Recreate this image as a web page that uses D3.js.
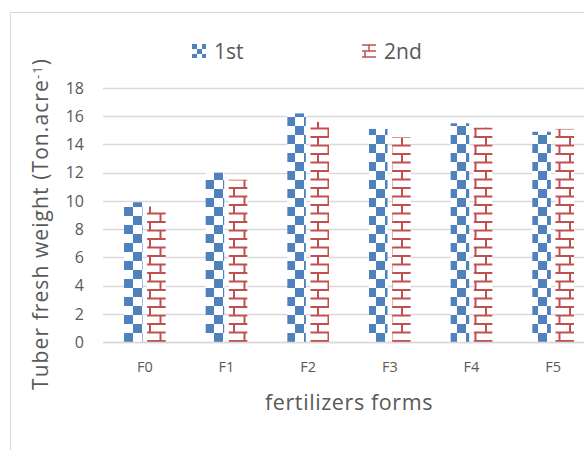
<!DOCTYPE html>
<html><head><meta charset="utf-8">
<script src="https://cdn.jsdelivr.net/npm/d3@7/dist/d3.min.js"></script>
<style>body{margin:0;background:#fff}svg{display:block}text{font-family:"Open Sans",sans-serif;fill:#595959}</style>
</head><body><div id="c"></div>
<script>
const categories = ["F0","F1","F2","F3","F4","F5"];
const seriesNames = ["1st","2nd"];
const first  = [9.9, 12.0, 16.2, 15.1, 15.5, 14.9];
const second = [9.6, 11.5, 15.6, 14.5, 15.2, 15.1];
const yTicks = [0,2,4,6,8,10,12,14,16,18];
const yTitle = "Tuber fresh weight (Ton.acre";
const xTitle = "fertilizers forms";

const W = 584, H = 450;
const svg = d3.select("#c").append("svg").attr("width", W).attr("height", H);
const defs = svg.append("defs");

function fitWidth(sel, target){
  const node = sel.node();
  const len = node.getComputedTextLength();
  const n = (node.textContent || "").length;
  if (n > 1) sel.style("letter-spacing", ((target - len) / n) + "px");
}

// checkerboard pattern
const pc = defs.append("pattern").attr("id","checker").attr("patternUnits","userSpaceOnUse")
  .attr("width",18).attr("height",18).attr("x",124).attr("y",0);
pc.append("rect").attr("width",18).attr("height",18).attr("fill","#fff");
pc.append("rect").attr("x",9).attr("y",0).attr("width",9).attr("height",9).attr("fill","#4F81BD");
pc.append("rect").attr("x",0).attr("y",9).attr("width",9).attr("height",9).attr("fill","#4F81BD");

// brick pattern
const pb = defs.append("pattern").attr("id","brick").attr("patternUnits","userSpaceOnUse")
  .attr("width",21).attr("height",17).attr("x",149).attr("y",0);
pb.append("rect").attr("width",21).attr("height",17).attr("fill","#fff");
pb.append("path").attr("d","M0,1H21M0,9.5H21M1,1V9.5M11.5,9.5V17")
  .attr("stroke","#C0504D").attr("stroke-width",2).attr("fill","none");

// frame
svg.append("path").attr("d","M10.5,450V12.5H584").attr("stroke","#d9d9d9").attr("fill","none");

const x0 = d3.scaleBand().domain(categories).range([104, 594]).paddingInner(0.49).paddingOuter(0.245);
const x1 = d3.scaleBand().domain(seriesNames).range([0, x0.bandwidth()]).paddingInner(0.2);
const y = d3.scaleLinear().domain([0,18]).range([342, 88]);

// gridlines
svg.append("g").selectAll("line").data(yTicks).join("line")
  .attr("x1",103).attr("x2",W).attr("y1",d=>Math.round(y(d))+0.5).attr("y2",d=>Math.round(y(d))+0.5)
  .attr("stroke","#d9d9d9").attr("stroke-width",1.3);

// y tick labels
svg.append("g").selectAll("text").data(yTicks).join("text")
  .attr("x",84).attr("y",d=>y(d)).attr("dy","0.36em").attr("text-anchor","end")
  .style("font-size","16px").text(d=>d);

// bars
const series = [first, second];
const fills = ["url(#checker)","url(#brick)"];
series.forEach((vals,si)=>{
  svg.append("g").selectAll("rect").data(vals).join("rect")
    .attr("x",(d,i)=>x0(categories[i]) + x1(seriesNames[si]))
    .attr("width",x1.bandwidth())
    .attr("y",d=>y(d)).attr("height",d=>y(0)-y(d))
    .attr("fill",fills[si]);
});

// x axis line
svg.append("line").attr("x1",103).attr("x2",W).attr("y1",342.5).attr("y2",342.5)
  .attr("stroke","#d9d9d9").attr("stroke-width",1.3);

// x labels
svg.append("g").selectAll("text").data(categories).join("text")
  .attr("x",d=>x0(d)+x0.bandwidth()/2).attr("y",367).attr("dy","0.35em")
  .attr("text-anchor","middle").style("font-size","14.5px").text(d=>d);

// x title
const xt = svg.append("text").attr("x",349).attr("y",402).attr("dy","0.35em").attr("text-anchor","middle")
  .style("font-size","21.5px").text(xTitle);
fitWidth(xt, 168);

// y title
const yt = svg.append("text").attr("transform","translate(48,224) rotate(-90)")
  .attr("text-anchor","middle").style("font-size","21px");
yt.append("tspan").text(yTitle);
yt.append("tspan").attr("dy","-0.5em").style("font-size","13px").text("-1");
yt.append("tspan").attr("dy","0.31em").text(")");
fitWidth(yt, 332);

// legend
const leg = [{x:192,label:"1st",fill:"url(#lchecker)"},{x:362,label:"2nd",fill:"url(#lbrick)"}];
const lc = defs.append("pattern").attr("id","lchecker").attr("patternUnits","userSpaceOnUse")
  .attr("width",10).attr("height",10).attr("x",192).attr("y",44);
lc.append("rect").attr("width",10).attr("height",10).attr("fill","#fff");
lc.append("rect").attr("x",0).attr("y",0).attr("width",5).attr("height",5).attr("fill","#4F81BD");
lc.append("rect").attr("x",5).attr("y",5).attr("width",5).attr("height",5).attr("fill","#4F81BD");
const lb = defs.append("pattern").attr("id","lbrick").attr("patternUnits","userSpaceOnUse")
  .attr("width",14).attr("height",14).attr("x",362).attr("y",44);
lb.append("rect").attr("width",14).attr("height",14).attr("fill","#fff");
lb.append("path").attr("d","M0,1H14M0,7H14M0,13H14M7,1V7M3,7V13").attr("stroke","#C0504D").attr("stroke-width",1.5).attr("fill","none");
leg.forEach(l=>{
  svg.append("rect").attr("x",l.x).attr("y",44).attr("width",14).attr("height",14).attr("fill",l.fill);
  svg.append("text").attr("x",l.x+22).attr("y",51).attr("dy","0.36em").style("font-size","21px").text(l.label);
});
</script></body></html>
